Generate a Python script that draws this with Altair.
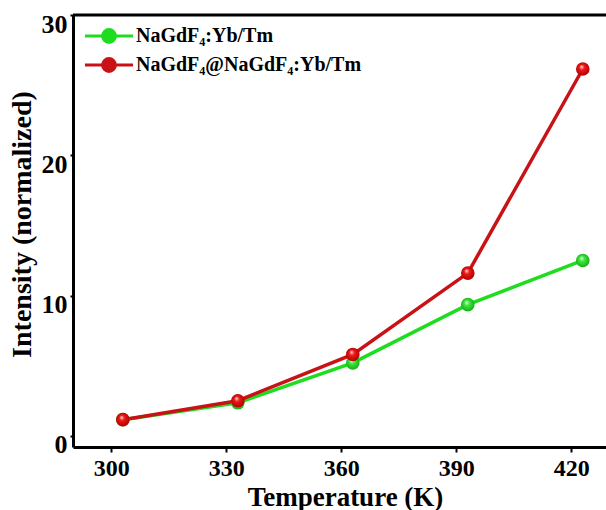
import altair as alt
import pandas as pd

temps = [303, 333, 363, 393, 423]
green_vals = [1.15, 2.35, 5.2, 9.35, 12.5]
red_vals = [1.15, 2.5, 5.8, 11.6, 26.15]
series_names = ["NaGdF\u2084:Yb/Tm", "NaGdF\u2084@NaGdF\u2084:Yb/Tm"]
x_ticks = [300, 330, 360, 390, 420]
y_ticks = [0, 10, 20, 30]

rows = []
for t, v in zip(temps, green_vals):
    rows.append({"T": t, "I": v, "s": series_names[0]})
for t, v in zip(temps, red_vals):
    rows.append({"T": t, "I": v, "s": series_names[1]})
df = pd.DataFrame(rows)
df_g = df[df.s == series_names[0]]
df_r = df[df.s == series_names[1]]

FONT = "Liberation Serif"
W, H = 533, 432
xscale = alt.Scale(domain=[290, 290 + W / 3.833], nice=False, zero=False)
yscale = alt.Scale(domain=[-0.8, 30], nice=False, zero=False)

xaxis = alt.Axis(values=x_ticks, grid=False, title="Temperature (K)",
                 labelFont=FONT, labelFontWeight="bold", labelFontSize=24, labelColor="black",
                 labelBaseline="alphabetic", labelPadding=23, labelFlush=False,
                 tickSize=5, tickWidth=2, tickColor="black",
                 domainColor="black", domainWidth=3,
                 titleFont=FONT, titleFontWeight="bold", titleFontSize=27, titleColor="black",
                 titleX=272, titleY=58, titleBaseline="alphabetic", titleAlign="center")
yaxis = alt.Axis(values=y_ticks, grid=False, title="Intensity (normalized)",
                 labelFont=FONT, labelFontWeight="bold", labelFontSize=26, labelColor="black",
                 labelBaseline="middle", labelOffset=9, labelPadding=3, labelFlush=False,
                 tickSize=3, tickWidth=2, tickColor="black",
                 domainColor="black", domainWidth=3,
                 titleFont=FONT, titleFontWeight="bold", titleFontSize=28, titleColor="black",
                 titleX=-43, titleY=209, titleBaseline="alphabetic", titleAlign="center", titleAngle=-90)

sym_path = ("M-3,0H3M-0.8,0A0.8,0.8,0,1,0,0.8,0A0.8,0.8,0,1,0,-0.8,0Z")
legend = alt.Legend(title=None, orient="none", legendX=26, legendY=11, padding=0,
                    symbolType=sym_path, symbolSize=256, symbolStrokeWidth=3,
                    symbolFillColor={"expr": "scale('color', datum.value)"},
                    labelFont=FONT, labelFontWeight="bold", labelFontSize=20, labelColor="black",
                    labelOffset=17, rowPadding=3, labelLimit=400)

color = alt.Color("s:N", scale=alt.Scale(domain=series_names, range=["#1EDC1E", "#C81216"]),
                  legend=legend)

lines = alt.Chart(df).mark_line(strokeWidth=3.5).encode(
    x=alt.X("T:Q", scale=xscale, axis=xaxis),
    y=alt.Y("I:Q", scale=yscale, axis=yaxis),
    color=color,
    order=alt.Order("T:Q"),
)

def grad(hi, mid, edge):
    return {"gradient": "radial", "x1": 0.4, "y1": 0.32, "r1": 0.0,
            "x2": 0.5, "y2": 0.5, "r2": 0.55,
            "stops": [{"offset": 0, "color": hi}, {"offset": 0.35, "color": mid},
                      {"offset": 1, "color": edge}]}

pts_g = alt.Chart(df_g).mark_circle(size=185, opacity=1,
                                    fill=grad("#eaffea", "#3ce83c", "#14a814")).encode(
    x=alt.X("T:Q", scale=xscale), y=alt.Y("I:Q", scale=yscale))
pts_r = alt.Chart(df_r).mark_circle(size=185, opacity=1,
                                    fill=grad("#ffe0e0", "#f01818", "#a80000")).encode(
    x=alt.X("T:Q", scale=xscale), y=alt.Y("I:Q", scale=yscale))

top_border = alt.Chart(pd.DataFrame({"v": [30]})).mark_rule(color="black", strokeWidth=3).encode(
    y=alt.Y("v:Q", scale=yscale))

chart = alt.layer(top_border, lines, pts_g, pts_r).properties(
    width=W, height=H,
    padding={"left": 73, "top": 15, "right": 0, "bottom": 63},
    autosize="none",
).configure_view(stroke="transparent").configure(background="white")

chart.save("out.html", embed_options={"renderer": "svg", "actions": False})
